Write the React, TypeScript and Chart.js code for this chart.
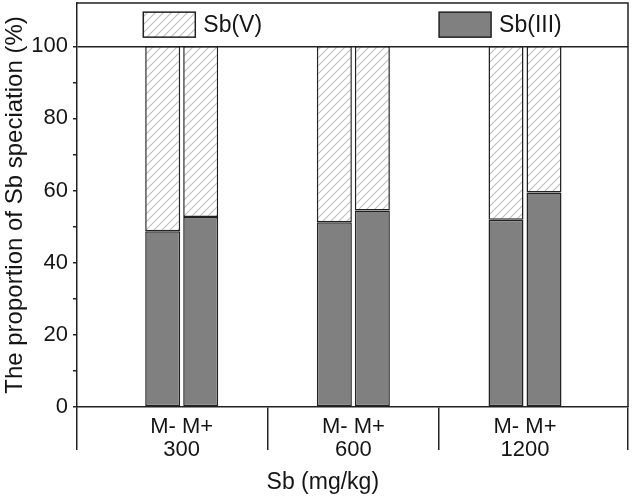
import React, { useEffect, useRef } from 'react';
import { Chart, registerables } from 'chart.js';

Chart.register(...registerables);

// ---- data ----
const doseLabels = ['300', '600', '1200'];
const treatmentLabel = 'M- M+';
const groupPositions = [1, 2, 3];
const sb3MinusM = [48.7, 51.2, 51.9];
const sb3PlusM = [52.7, 54.5, 59.5];
const sb5MinusM = [51.3, 48.8, 48.1];
const sb5PlusM = [47.3, 45.5, 40.5];
const yTickValues = [0, 10, 20, 30, 40, 50, 60, 70, 80, 90, 100];
const yLabelValues = [0, 20, 40, 60, 80, 100];
const xTickValues = [0.39, 1, 1.5, 2, 2.5, 3, 3.6];
const seriesNames = ['Sb(V)', 'Sb(III)'];
const xTitle = 'Sb (mg/kg)';
const yTitle = 'The proportion of Sb speciation (%)';

const FONT = '"Liberation Sans", Arial, Helvetica, sans-serif';
const INK = '#151515';
const LINE = '#222222';
const GRAY = '#808080';

function makeHatch(): CanvasPattern | string {
  const c = document.createElement('canvas');
  const s = 8;
  c.width = s;
  c.height = s;
  const g = c.getContext('2d');
  if (!g) return '#ffffff';
  g.fillStyle = '#ffffff';
  g.fillRect(0, 0, s, s);
  g.strokeStyle = '#bdbdbd';
  g.lineWidth = 1.1;
  g.beginPath();
  g.moveTo(0, s);
  g.lineTo(s, 0);
  g.moveTo(-s / 2, s / 2);
  g.lineTo(s / 2, -s / 2);
  g.moveTo(s / 2, s * 1.5);
  g.lineTo(s * 1.5, s / 2);
  g.stroke();
  const p = g.createPattern(c, 'repeat');
  return p || '#ffffff';
}

export default function App() {
  const ref = useRef<HTMLCanvasElement | null>(null);

  useEffect(() => {
    if (!ref.current) return;
    const hatch = makeHatch();

    const pts = (vals: number[]) => groupPositions.map((x, i) => ({ x, y: vals[i] }));

    const barCommon = {
      borderColor: LINE,
      borderWidth: 1.5,
      borderSkipped: false as const,
      categoryPercentage: 0.8857,
      barPercentage: 0.921,
    };

    const innerLegend = {
      id: 'innerLegend',
      afterDraw(chart: any) {
        const { ctx, chartArea } = chart;
        const yScale = chart.scales.y;
        const top = chartArea.top;
        const bottom = yScale.getPixelForValue(100);
        const cy = (top + bottom) / 2;
        const ds = chart.data.datasets;
        const items = [
          { label: seriesNames[0], fill: ds[1].backgroundColor },
          { label: seriesNames[1], fill: ds[0].backgroundColor },
        ];
        ctx.save();
        ctx.font = `23px ${FONT}`;
        const boxW = 52;
        const boxH = 25;
        const gapText = 8;
        const itemGap = 177;
        const widths = items.map((it) => boxW + gapText + ctx.measureText(it.label).width);
        const total = widths[0] + itemGap + widths[1];
        let x = (chartArea.left + chartArea.right) / 2 - total / 2;
        items.forEach((it, i) => {
          ctx.fillStyle = it.fill;
          ctx.fillRect(x, cy - boxH / 2, boxW, boxH);
          ctx.lineWidth = 1.5;
          ctx.strokeStyle = LINE;
          ctx.strokeRect(x, cy - boxH / 2, boxW, boxH);
          ctx.fillStyle = INK;
          ctx.textBaseline = 'middle';
          ctx.textAlign = 'left';
          ctx.fillText(it.label, x + boxW + gapText, cy + 1);
          x += widths[i] + itemGap;
        });
        ctx.restore();
      },
    };

    const frame = {
      id: 'frame',
      afterDatasetsDraw(chart: any) {
        const { ctx, chartArea } = chart;
        ctx.save();
        ctx.strokeStyle = LINE;
        ctx.lineWidth = 1.5;
        ctx.beginPath();
        ctx.moveTo(chartArea.left, chartArea.top);
        ctx.lineTo(chartArea.right, chartArea.top);
        ctx.lineTo(chartArea.right, chartArea.bottom);
        ctx.stroke();
        ctx.restore();
      },
    };

    const xTitlePlugin = {
      id: 'xTitle',
      afterDraw(chart: any) {
        const { ctx } = chart;
        ctx.save();
        ctx.font = `23px ${FONT}`;
        ctx.fillStyle = INK;
        ctx.textAlign = 'center';
        ctx.textBaseline = 'middle';
        ctx.fillText(xTitle, chart.width * 0.51, chart.height - 14);
        ctx.restore();
      },
    };

    const chart = new Chart(ref.current, {
      type: 'bar',
      data: {
        datasets: [
          { label: seriesNames[1], stack: 'M-', data: pts(sb3MinusM), backgroundColor: GRAY, ...barCommon },
          { label: seriesNames[0], stack: 'M-', data: pts(sb5MinusM), backgroundColor: hatch as any, ...barCommon },
          { label: seriesNames[1], stack: 'M+', data: pts(sb3PlusM), backgroundColor: GRAY, ...barCommon },
          { label: seriesNames[0], stack: 'M+', data: pts(sb5PlusM), backgroundColor: hatch as any, ...barCommon },
        ],
      },
      options: {
        animation: false,
        responsive: false,
        layout: { padding: { left: 0, right: 5, top: 3, bottom: 0 } },
        plugins: {
          legend: { display: false },
          tooltip: { enabled: false },
        },
        scales: {
          x: {
            type: 'linear',
            min: 0.39,
            max: 3.6,
            offset: false,
            afterBuildTicks: (scale: any) => {
              scale.ticks = xTickValues.map((v) => ({ value: v }));
            },
            afterFit: (scale: any) => {
              scale.height = 90;
              scale.paddingLeft = 0;
              scale.paddingRight = 0;
            },
            grid: {
              offset: false,
              drawOnChartArea: false,
              drawTicks: true,
              tickLength: 43,
              lineWidth: 1.5,
              color: (c: any) => (c.tick && Number.isInteger(c.tick.value) ? 'rgba(0,0,0,0)' : LINE),
            },
            border: { display: true, color: LINE, width: 1.5 },
            ticks: {
              autoSkip: false,
              maxRotation: 0,
              minRotation: 0,
              padding: -35,
              color: INK,
              font: { family: FONT, size: 22, lineHeight: 1.06 },
              callback: (v: any) => {
                const n = Number(v);
                const i = groupPositions.indexOf(n);
                return i >= 0 ? [treatmentLabel, doseLabels[i]] : '';
              },
            },
          },
          y: {
            stacked: true,
            min: 0,
            max: 112,
            afterBuildTicks: (scale: any) => {
              scale.ticks = yTickValues.map((v) => ({ value: v }));
            },
            afterFit: (scale: any) => {
              scale.width = 77;
              scale.paddingTop = 0;
              scale.paddingBottom = 0;
            },
            grid: {
              drawOnChartArea: true,
              drawTicks: true,
              tickLength: 4,
              lineWidth: 1.5,
              tickColor: LINE,
              color: (c: any) => (c.tick && c.tick.value === 100 ? LINE : 'rgba(0,0,0,0)'),
            },
            border: { display: true, color: LINE, width: 1.5 },
            ticks: {
              padding: 5,
              color: INK,
              font: { family: FONT, size: 22 },
              callback: (v: any) => (yLabelValues.indexOf(Number(v)) >= 0 ? String(v) : ''),
            },
            title: {
              display: true,
              text: yTitle,
              color: INK,
              font: { family: FONT, size: 24 },
              padding: { top: 1, bottom: 0 },
            },
          },
        },
      },
      plugins: [frame, innerLegend, xTitlePlugin],
    } as any);

    return () => chart.destroy();
  }, []);

  return (
    <div style={{ position: 'absolute', left: 0, top: 0, width: 633, height: 497, background: '#ffffff' }}>
      <canvas ref={ref} width={633} height={497} style={{ width: 633, height: 497, display: 'block' }} />
    </div>
  );
}
